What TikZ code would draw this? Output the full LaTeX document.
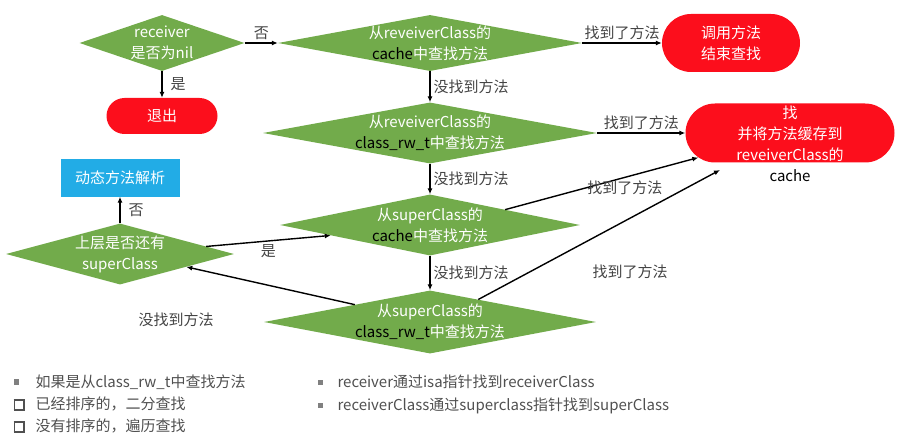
\documentclass[tikz,border=0pt]{standalone}
\usepackage{fontspec}
\usepackage{tikz}
\usetikzlibrary{shapes.geometric, shapes.misc, arrows.meta}

\newfontfamily\cjk{Noto Sans CJK SC}
\newcommand{\boxbullet}{\makebox[24pt][l]{\hspace{2pt}\raisebox{0.5pt}{\fboxsep=0pt\fboxrule=1.6pt\fbox{\rule{0pt}{8pt}\hspace{8pt}}}}}
\newcommand{\dotbullet}[1]{\makebox[#1][l]{\hspace{2pt}\raisebox{2.5pt}{\textcolor{gray}{\rule{5.5pt}{5.5pt}}}}}

\definecolor{flowgreen}{RGB}{114,171,75}
\definecolor{flowred}{RGB}{252,14,28}
\definecolor{flowblue}{RGB}{34,172,230}
\definecolor{labelgray}{RGB}{68,68,68}
\definecolor{notegray}{RGB}{80,80,80}

\begin{document}
\begin{tikzpicture}[
		x=1pt, y=-1pt,
		every node/.style={font=\cjk\fontsize{15}{21}\selectfont, align=center},
		every label/.append style={text=white, inner sep=0pt},
		decision/.style={diamond, fill=flowgreen, inner sep=0pt},
		terminal/.style={rounded rectangle, fill=flowred, text=white, inner sep=0pt},
		edgelabel/.style={text=labelgray, inner sep=3pt},
		note/.style={text=notegray, anchor=west, align=left, font=\cjk\fontsize{15}{18}\selectfont},
		flow/.style={line width=1.4pt, -{Latex[length=6pt, width=5pt]}}
	]
  \useasboundingbox (0, 0) rectangle (908, 441);

  % decisions
  \node (nilcheck) [decision, minimum width=165pt, minimum height=56pt,
    label={center:{receiver\\是否为nil}}] at (162, 43) {};
  \node (rcache) [decision, minimum width=304pt, minimum height=56pt,
    label={center:{从reveiverClass的\\\textcolor{black}{cache}中查找方法}}] at (430, 43) {};
  \node (rrwt) [decision, minimum width=334pt, minimum height=61pt,
    label={center:{从reveiverClass的\\\textcolor{black}{class\_rw\_t}中查找方法}}] at (430, 133) {};
  \node (scache) [decision, minimum width=300pt, minimum height=61pt,
    label={center:{从superClass的\\\textcolor{black}{cache}中查找方法}}] at (430, 225) {};
  \node (srwt) [decision, minimum width=332pt, minimum height=63pt,
    label={center:{从superClass的\\\textcolor{black}{class\_rw\_t}中查找方法}}] at (430, 322) {};
  \node (hassuper) [decision, minimum width=228pt, minimum height=61pt,
    label={center:{上层是否还有\\superClass}}] at (120, 254) {};

  % ends
  \node (exit) [terminal, minimum width=111pt, minimum height=36pt] at (162, 116) {退出};
  \node (finish) [terminal, minimum width=138pt, minimum height=58pt] at (731, 43) {调用方法\\结束查找};
  \node (cachefill) [terminal, minimum width=209pt, minimum height=59pt] at (790, 133) {};
  \node (cachefilltext) [text=white, inner sep=0pt] at (790, 144)
    {找\\并将方法缓存到\\reveiverClass的\\\textcolor{black}{cache}};
  \node (resolve) [rectangle, fill=flowblue, text=white, minimum width=119pt,
    minimum height=37pt] at (120, 178) {动态方法解析};
  \coordinate (cachein) at (720, 170);

  \draw [flow] (nilcheck) -- node [edgelabel, above] {否} (rcache);
  \draw [flow] (nilcheck) -- node [edgelabel, right=5pt] {是} (exit);
  \draw [flow] (rcache) -- node [edgelabel, above] {找到了方法} (finish);
  \draw [flow] (rcache) -- node [edgelabel, right] {没找到方法} (rrwt);
  \draw [flow] (rrwt) -- node [edgelabel, above] {找到了方法} (cachefill);
  \draw [flow] (rrwt) -- node [edgelabel, right] {没找到方法} (scache);
  \draw [flow] (scache) -- node [edgelabel, right] {没找到方法} (srwt);
  \draw [flow] (scache.north east) -- node [edgelabel, pos=0.62, below] {找到了方法} (cachefill.195);
  \draw [flow] (srwt.25) -- (cachein);
  \node (srwtfound) [edgelabel] at (630, 272) {找到了方法};
  \draw [flow] (srwt.167) -- (hassuper.-11);
  \node (srwtmiss) [edgelabel] at (176, 320) {没找到方法};
  \draw [flow] (hassuper.5) -- node [edgelabel, below] {是} (scache.186);
  \draw [flow] (hassuper) -- node [edgelabel, right=5pt] {否} (resolve);

  % notes
  \node (note1) [note] at (8, 382) {\dotbullet{24pt}如果是从class\_rw\_t中查找方法};
  \node (note2) [note] at (8, 404) {\boxbullet 已经排序的，二分查找};
  \node (note3) [note] at (8, 426) {\boxbullet 没有排序的，遍历查找};
  \node (note4) [note] at (312, 382) {\dotbullet{22pt}receiver通过isa指针找到receiverClass};
  \node (note5) [note] at (312, 406) {\dotbullet{22pt}receiverClass通过superclass指针找到superClass};
\end{tikzpicture}
\end{document}
